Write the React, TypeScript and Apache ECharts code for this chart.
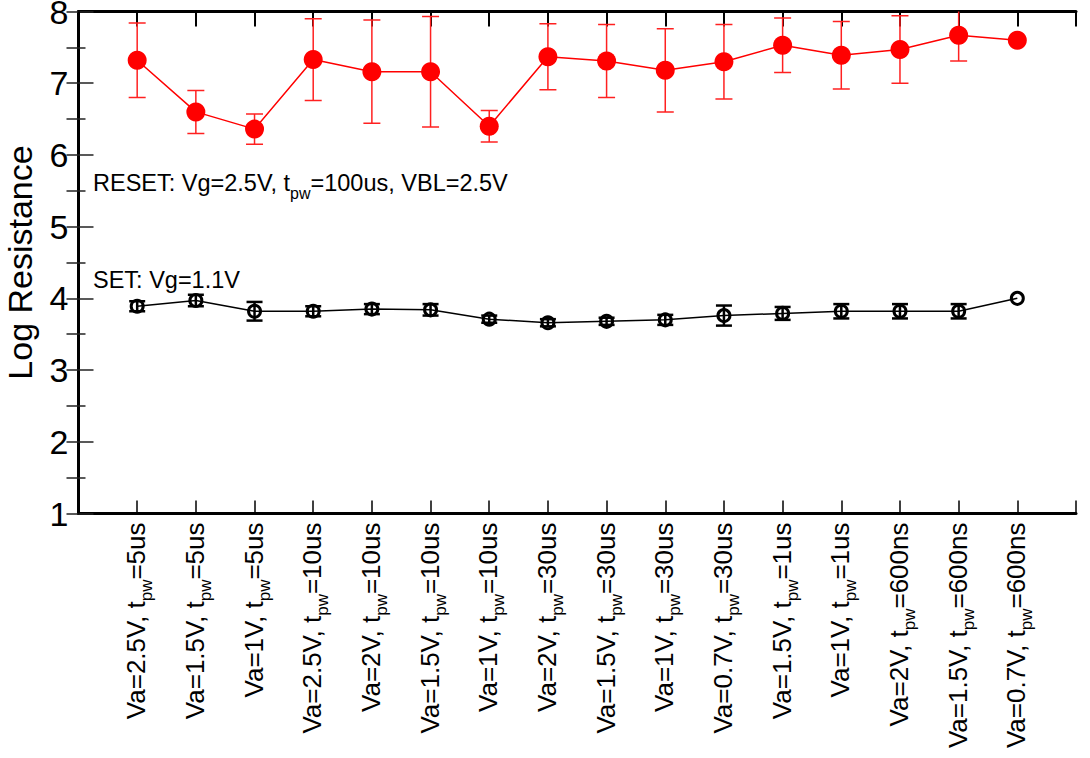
import React, { useEffect, useRef } from 'react';
import * as echarts from 'echarts';

const vaLabels = ['2.5V', '1.5V', '1V', '2.5V', '2V', '1.5V', '1V', '2V', '1.5V', '1V', '0.7V', '1.5V', '1V', '2V', '1.5V', '0.7V'];
const tpwLabels = ['5us', '5us', '5us', '10us', '10us', '10us', '10us', '30us', '30us', '30us', '30us', '1us', '1us', '600ns', '600ns', '600ns'];

const resetValues = [7.32, 6.60, 6.36, 7.33, 7.16, 7.16, 6.40, 7.37, 7.31, 7.18, 7.30, 7.53, 7.39, 7.47, 7.67, 7.60];
const resetErrors = [0.52, 0.30, 0.21, 0.57, 0.72, 0.77, 0.22, 0.46, 0.51, 0.58, 0.52, 0.38, 0.47, 0.47, 0.36, 0];

const setValues = [3.89, 3.97, 3.82, 3.82, 3.85, 3.84, 3.71, 3.66, 3.68, 3.70, 3.76, 3.79, 3.82, 3.82, 3.82, 4.00];
const setErrors = [0.07, 0.08, 0.13, 0.07, 0.07, 0.08, 0.05, 0.05, 0.05, 0.07, 0.14, 0.09, 0.10, 0.10, 0.10, 0];

const yMin = 1;
const yMax = 8;

const FONT = '"Liberation Sans", Arial, Helvetica, sans-serif';

function errorBars(values: number[], errors: number[], color: string, lineWidth: number, capHalf: number) {
  return {
    type: 'custom',
    clip: true,
    z: 2,
    data: values.map((v, i) => [i + 1, v - errors[i], v + errors[i]]),
    encode: { x: 0, y: [1, 2] },
    renderItem: (params: any, api: any) => {
      const x = api.value(0);
      const loV = api.value(1);
      const hiV = api.value(2);
      if (hiV - loV <= 0) return { type: 'group', children: [] };
      const lo = api.coord([x, loV]);
      const hi = api.coord([x, hiV]);
      const style = { stroke: color, lineWidth };
      return {
        type: 'group',
        children: [
          { type: 'line', shape: { x1: lo[0], y1: lo[1], x2: hi[0], y2: hi[1] }, style },
          { type: 'line', shape: { x1: lo[0] - capHalf, y1: lo[1], x2: lo[0] + capHalf, y2: lo[1] }, style },
          { type: 'line', shape: { x1: hi[0] - capHalf, y1: hi[1], x2: hi[0] + capHalf, y2: hi[1] }, style },
        ],
      };
    },
  };
}

export default function App() {
  const ref = useRef<HTMLDivElement>(null);
  useEffect(() => {
    if (!ref.current) return;
    const chart = echarts.init(ref.current, null, { renderer: 'svg' });
    const axisLine = { show: true, lineStyle: { color: '#000', width: 3 } };
    const option: any = {
      animation: false,
      backgroundColor: '#fff',
      textStyle: { fontFamily: FONT },
      grid: { left: 78.5, right: 14, top: 11.5, bottom: 244.5, containLabel: false, outerBoundsMode: 'none' },
      xAxis: [
        {
          type: 'value',
          position: 'bottom',
          min: 0,
          max: 17,
          interval: 1,
          axisLine,
          splitLine: { show: false },
          axisTick: { show: true, inside: true, length: 13, lineStyle: { color: '#000', width: 1.5 } },
          axisLabel: {
            rotate: 90,
            margin: 9,
            color: '#000',
            fontFamily: FONT,
            formatter: (v: number) => {
              const i = Math.round(v) - 1;
              if (i < 0 || i >= vaLabels.length) return '';
              return `{m|Va=${vaLabels[i]}, t}{s|pw}{m|=${tpwLabels[i]}}`;
            },
            rich: {
              m: { fontSize: 26, lineHeight: 28, verticalAlign: 'top', fontFamily: FONT, color: '#000' },
              s: { fontSize: 17, lineHeight: 17, verticalAlign: 'top', padding: [15, 0, 0, 0], fontFamily: FONT, color: '#000' },
            },
          },
        },
        {
          type: 'value',
          position: 'top',
          min: 0,
          max: 17,
          interval: 1,
          axisLine,
          splitLine: { show: false },
          axisTick: { show: true, inside: true, length: 15, lineStyle: { color: '#000', width: 2 } },
          axisLabel: { show: false },
        },
      ],
      yAxis: [
        {
          type: 'value',
          position: 'left',
          min: yMin,
          max: yMax,
          interval: 1,
          axisLine,
          splitLine: { show: false },
          axisTick: { show: true, inside: true, length: 15, lineStyle: { color: '#222', width: 1.5 } },
          minorTick: { show: true, splitNumber: 2, length: 7, lineStyle: { color: '#222', width: 1.5 } },
          minorSplitLine: { show: false },
          axisLabel: { fontSize: 34, color: '#000', margin: 10, fontFamily: FONT },
          name: 'Log Resistance',
          nameLocation: 'middle',
          nameGap: 42,
          nameTextStyle: { fontSize: 34, color: '#000', fontFamily: FONT },
        },
        {
          type: 'value',
          position: 'right',
          min: yMin,
          max: yMax,
          interval: 0.5,
          axisLine,
          splitLine: { show: false },
          axisTick: { show: true, inside: true, length: 12, lineStyle: { color: '#222', width: 1.5 } },
          axisLabel: { show: false },
        },
      ],
      graphic: [
        {
          type: 'text',
          x: 93,
          y: 171,
          z: 10,
          style: {
            text: '{m|RESET: Vg=2.5V, t}{s|pw}{m|=100us, VBL=2.5V}',
            rich: {
              m: { fontSize: 23.5, lineHeight: 26, verticalAlign: 'top', fontFamily: FONT, fill: '#000' },
              s: { fontSize: 16, lineHeight: 16, verticalAlign: 'top', padding: [14, 0, 0, 0], fontFamily: FONT, fill: '#000' },
            },
          },
        },
        {
          type: 'text',
          x: 93,
          y: 268,
          z: 10,
          style: {
            text: 'SET: Vg=1.1V',
            fontSize: 23.5,
            fontFamily: FONT,
            fill: '#000',
          },
        },
      ],
      series: [
        errorBars(resetValues, resetErrors, '#ff2020', 1.5, 8.5),
        {
          type: 'line',
          z: 3,
          data: resetValues.map((v, i) => [i + 1, v]),
          symbol: 'circle',
          symbolSize: 19,
          itemStyle: { color: '#ff0000' },
          lineStyle: { color: '#ff0000', width: 1.5 },
        },
        errorBars(setValues, setErrors, '#000', 2.5, 8),
        {
          type: 'line',
          z: 3,
          data: setValues.map((v, i) => [i + 1, v]),
          symbol: 'circle',
          symbolSize: 12,
          itemStyle: { color: 'rgba(0,0,0,0)', borderColor: '#000', borderWidth: 3 },
          lineStyle: { color: '#000', width: 1.5 },
        },
      ],
    };
    chart.setOption(option);
    return () => chart.dispose();
  }, []);
  return <div ref={ref} style={{ position: 'absolute', left: 0, top: 0, width: 1090, height: 758 }} />;
}
